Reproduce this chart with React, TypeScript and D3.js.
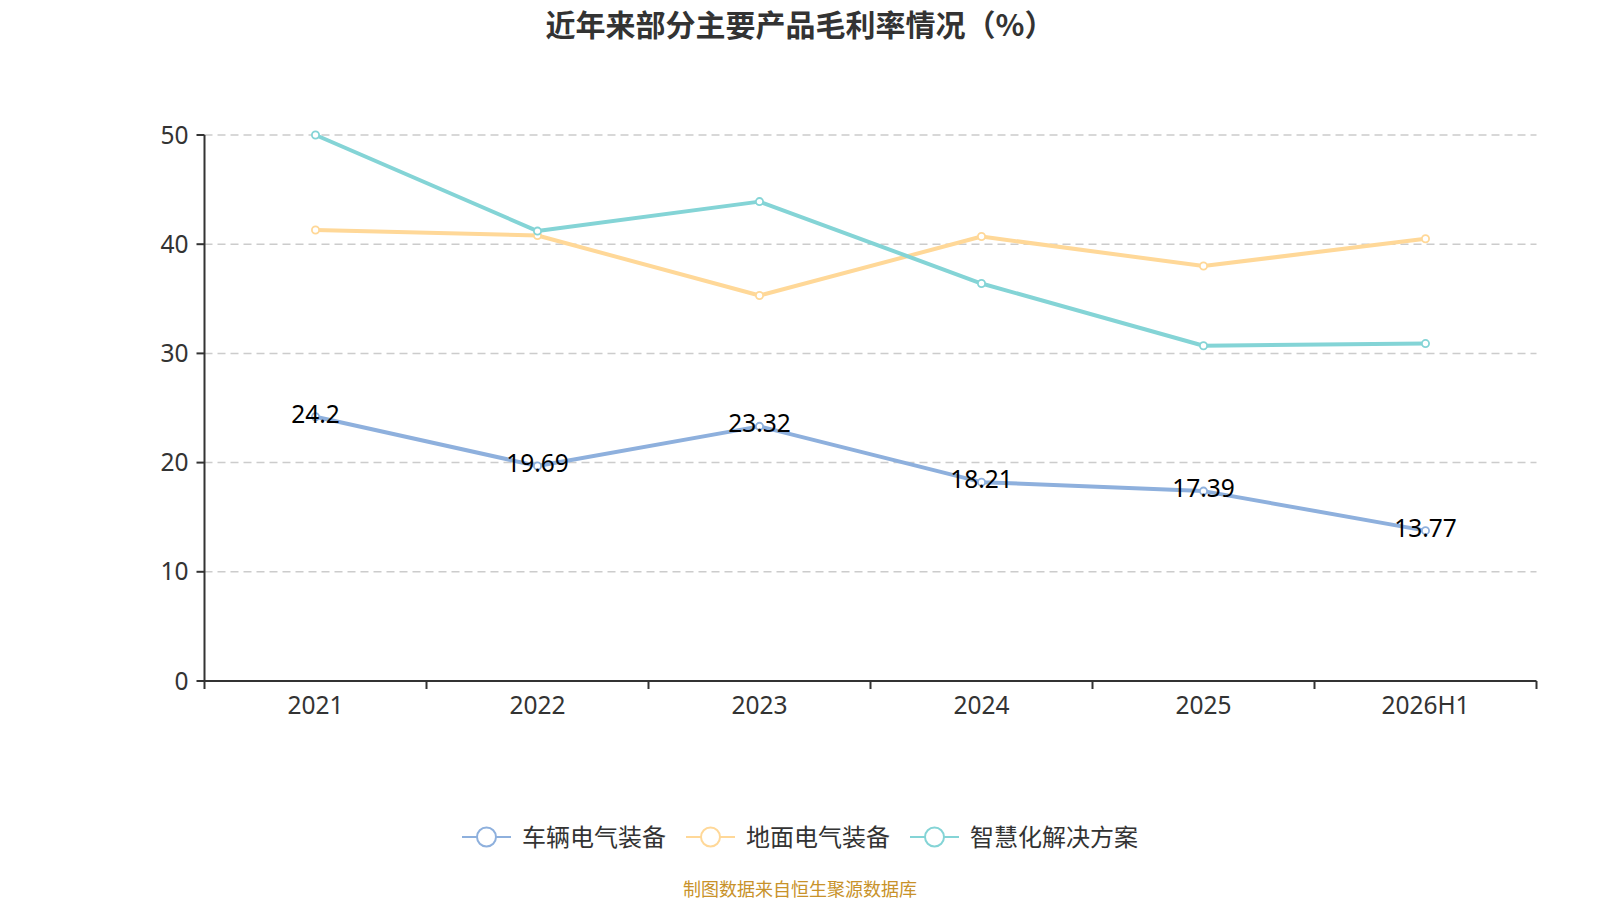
import React from 'react';
import * as d3 from 'd3';

const categories = ['2021', '2022', '2023', '2024', '2025', '2026H1'];
const seriesNames = ['车辆电气装备', '地面电气装备', '智慧化解决方案'];
const vehicleValues = [24.2, 19.69, 23.32, 18.21, 17.39, 13.77];
const groundValues = [41.3, 40.8, 35.3, 40.7, 38.0, 40.5];
const smartValues = [50.0, 41.2, 43.9, 36.4, 30.7, 30.9];
const yTicks = [0, 10, 20, 30, 40, 50];
const seriesColors = ['#8eb0dd', '#ffd898', '#84d4d6'];
const titleText = '近年来部分主要产品毛利率情况（%）';
const sourceText = '制图数据来自恒生聚源数据库';

const W = 1600;
const H = 900;
const left = 204.5;
const right = 1536.5;
const top = 135;
const bottom = 681;

const numFont = '"Noto Sans", "Noto Sans CJK SC", sans-serif';
const cjkFont = '"Noto Sans CJK SC", "Noto Sans", sans-serif';
const numSize = 24.5;

export default function App() {
  const x = d3.scaleBand<string>().domain(categories).range([left, right]).padding(0);
  const y = d3.scaleLinear().domain([0, 50]).range([bottom, top]);
  const cx = (c: string) => (x(c) as number) + x.bandwidth() / 2;

  const allSeries = [vehicleValues, groundValues, smartValues];
  const line = d3
    .line<number>()
    .x((_, i) => cx(categories[i]))
    .y((d) => y(d));

  const tickBoundaries = d3.range(categories.length + 1).map((i) => left + i * x.bandwidth());

  // legend layout
  const legendFont = 24;
  const iconW = 49;
  const iconGap = 11;
  const itemGap = 20;
  const itemWidths = seriesNames.map((n) => iconW + iconGap + n.length * legendFont);
  const totalLegend = d3.sum(itemWidths) + itemGap * (seriesNames.length - 1);
  let lx = W / 2 - totalLegend / 2;
  const legendY = 837;
  const legendItems = seriesNames.map((n, i) => {
    const item = { name: n, x: lx, color: seriesColors[i] };
    lx += itemWidths[i] + itemGap;
    return item;
  });

  return (
    <div style={{ position: 'absolute', left: 0, top: 0 }}>
      <svg width={W} height={H} style={{ display: 'block', background: '#fff' }}>
        <text
          x={W / 2}
          y={36}
          textAnchor="middle"
          fontFamily={cjkFont}
          fontWeight="bold"
          fontSize={30}
          fill="#333"
        >
          {titleText}
        </text>

        {/* grid lines */}
        {yTicks
          .filter((t) => t !== 0)
          .map((t) => (
            <line
              key={'g' + t}
              x1={left}
              x2={right}
              y1={y(t)}
              y2={y(t)}
              stroke="#cccccc"
              strokeWidth={1.5}
              strokeDasharray="8,5"
            />
          ))}

        {/* y axis */}
        <line x1={left} x2={left} y1={top} y2={bottom} stroke="#333" strokeWidth={2} />
        {yTicks.map((t) => (
          <g key={'yt' + t}>
            <line x1={left - 8} x2={left} y1={y(t)} y2={y(t)} stroke="#333" strokeWidth={2} />
            <text
              x={left - 16}
              y={y(t) + 8.5}
              textAnchor="end"
              fontFamily={numFont}
              fontSize={numSize}
              fill="#333"
            >
              {t}
            </text>
          </g>
        ))}

        {/* x axis */}
        <line x1={left} x2={right} y1={bottom} y2={bottom} stroke="#333" strokeWidth={2} />
        {tickBoundaries.map((bx, i) => (
          <line key={'xt' + i} x1={bx} x2={bx} y1={bottom} y2={bottom + 8} stroke="#333" strokeWidth={2} />
        ))}
        {categories.map((c) => (
          <text
            key={'xl' + c}
            x={cx(c)}
            y={bottom + 33}
            textAnchor="middle"
            fontFamily={numFont}
            fontSize={numSize}
            fill="#333"
          >
            {c}
          </text>
        ))}

        {/* series */}
        {allSeries.map((vals, si) => (
          <g key={'s' + si}>
            <path d={line(vals) || ''} fill="none" stroke={seriesColors[si]} strokeWidth={4} strokeLinejoin="round" />
            {vals.map((v, i) => (
              <circle
                key={'c' + i}
                cx={cx(categories[i])}
                cy={y(v)}
                r={3.6}
                fill="#fff"
                stroke={seriesColors[si]}
                strokeWidth={1.8}
              />
            ))}
          </g>
        ))}

        {/* labels for vehicle series */}
        {vehicleValues.map((v, i) => (
          <text
            key={'lb' + i}
            x={cx(categories[i])}
            y={y(v) + 6}
            textAnchor="middle"
            fontFamily={numFont}
            fontSize={numSize}
            fill="#000"
          >
            {String(v)}
          </text>
        ))}

        {/* legend */}
        {legendItems.map((it) => (
          <g key={'lg' + it.name}>
            <line x1={it.x} x2={it.x + iconW} y1={legendY} y2={legendY} stroke={it.color} strokeWidth={2} />
            <circle cx={it.x + iconW / 2} cy={legendY} r={9.5} fill="#fff" stroke={it.color} strokeWidth={2} />
            <text
              x={it.x + iconW + iconGap}
              y={legendY + 8.5}
              fontFamily={cjkFont}
              fontSize={legendFont}
              fill="#333"
            >
              {it.name}
            </text>
          </g>
        ))}

        <text
          x={W / 2}
          y={896}
          textAnchor="middle"
          fontFamily={cjkFont}
          fontSize={18}
          fill="#c8922a"
        >
          {sourceText}
        </text>
      </svg>
    </div>
  );
}
